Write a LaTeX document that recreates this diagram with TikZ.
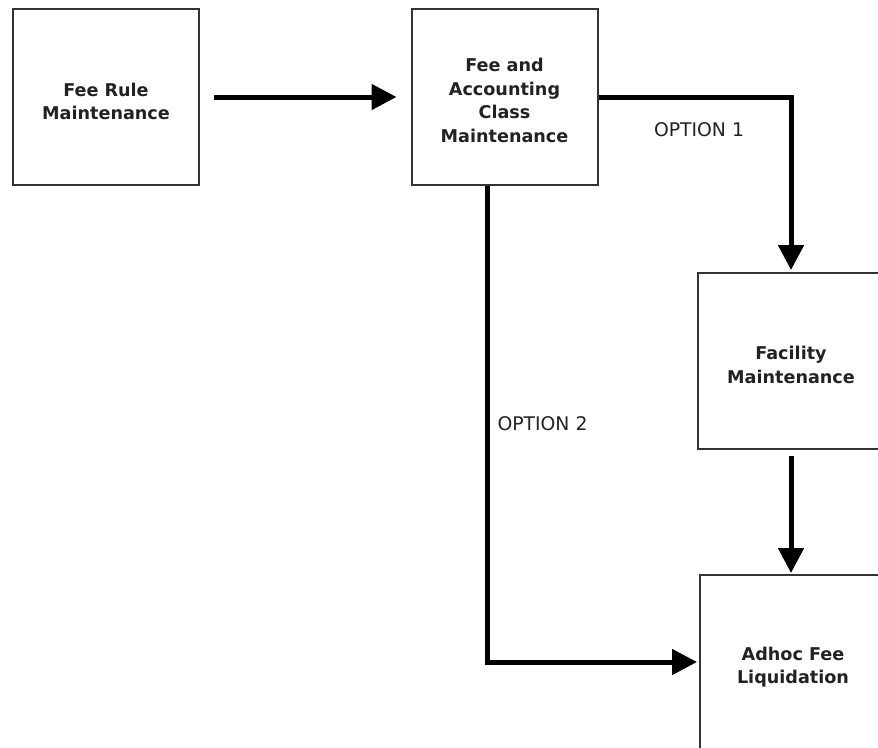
\documentclass[tikz,border=0pt]{standalone}
\usepackage{fontspec}
\setmainfont{DejaVu Sans}
\usetikzlibrary{arrows.meta}
\definecolor{txt}{HTML}{222222}
\definecolor{edge}{HTML}{333333}
\tikzset{
  box/.style={draw=edge, line width=2pt, minimum width=186pt, minimum height=176pt,
    inner sep=0pt},
  boxtext/.style={align=center, inner sep=0pt, text=txt,
    font=\fontsize{17.6}{23.5}\selectfont\bfseries},
  conn/.style={line width=5pt, -{Triangle[length=25pt,width=25pt]}},
  lbl/.style={text=txt, inner sep=0pt, font=\fontsize{18.8}{22}\selectfont}
}
\begin{document}
\begin{tikzpicture}[x=1pt,y=-1pt]
\useasboundingbox (0,0) rectangle (878,747);
\clip (0,0) rectangle (878,747);
\fill[white] (0,0) rectangle (878,747);
\node[box] (b1) at (106,97) {};
\node[box] (b2) at (504.5,97) {};
\node[box] (b3) at (791,361) {};
\node[box] (b4) at (793,663) {};
\node[boxtext] (t1) at ([yshift=-4.5pt]b1.center) {Fee Rule\\Maintenance};
\node[boxtext] (t2) at ([yshift=-3.5pt]b2.center) {Fee and\\Accounting\\Class\\Maintenance};
\node[boxtext] (t3) at ([yshift=-4pt]b3.center) {Facility\\Maintenance};
\node[boxtext] (t4) at ([yshift=-4pt]b4.center) {Adhoc Fee\\Liquidation};
\draw[conn] ([xshift=14pt]b1.east) -- ([xshift=-14pt]b2.west);
\draw[conn] (b2.east) -| ([yshift=2pt]b3.north);
\draw[conn] ([xshift=-17.5pt]b2.south) |- ([xshift=-2pt,yshift=1pt]b4.west);
\draw[conn] ([yshift=-6pt]b3.south) -- ([yshift=1pt]b3.south |- b4.north);
\node[lbl] (o1) at (699,130) {OPTION 1};
\node[lbl] (o2) at (542.5,423.5) {OPTION 2};
\end{tikzpicture}
\end{document}
